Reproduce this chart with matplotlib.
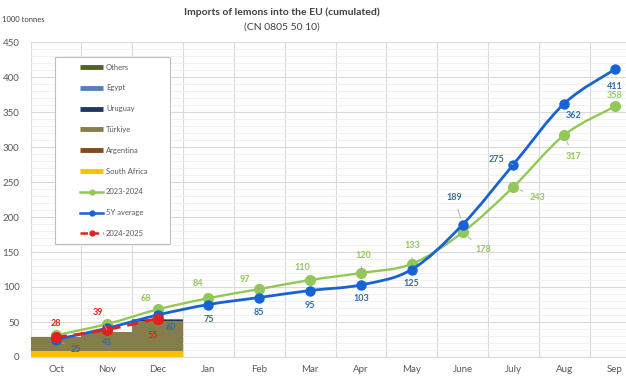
import matplotlib
matplotlib.use("Agg")
import matplotlib.pyplot as plt
from matplotlib.path import Path
from matplotlib.patches import PathPatch, Rectangle
from matplotlib.lines import Line2D
import numpy as np

plt.rcParams['font.family'] = ['Lato', 'DejaVu Sans']

# data
months = ['Oct', 'Nov', 'Dec', 'Jan', 'Feb', 'Mar', 'Apr', 'May', 'June', 'July', 'Aug', 'Sep']
y2324 = [31, 47, 68, 84, 97, 110, 120, 133, 178, 243, 317, 358]
y5avg = [25, 41, 60, 75, 85, 95, 103, 125, 189, 275, 362, 411]
y2425 = [28, 39, 55]

bar_months = ['Oct', 'Nov', 'Dec']
south_africa = [8, 8, 8]
argentina = [1, 1, 1]
turkiye = [20, 27, 43]
uruguay = [0, 0, 0.5]
egypt = [0, 0, 1.5]
others = [0, 0, 0]

# label offsets in pixels (dx, dy), and whether a leader line is drawn
green_off = [None, None, (-12, 11, 1), (-11, 15, 1), (-14, 10, 1), (-8, 13, 1), (2, 18, 1),
             (1, 18, 1), (21, -17, 1), (24, -11, 1), (9, -21, 1), (0, 11, 0)]
blue_off = [(20, -10, 1), (0, -14, 0), (13, -12, 0), (0, -15, 0), (0, -15, 0), (0, -15, 0),
            (0, -14, 0), (0, -14, 0), (-8, 27, 1), (-17, 5, 1), (9, -12, 0), (0, -17, 0)]
red_off = [(0, 14, 0), (-9, 17, 1), (-5, -17, 0)]

C_GREEN = '#92C856'
C_BLUE = '#1763D6'
C_RED = '#E3211C'
L_GREEN = '#92C856'
L_BLUE = '#2E6DA5'
L_RED = '#E3211C'

W, H = 626, 376
fig = plt.figure(figsize=(W / 100, H / 100), dpi=100)
ax = fig.add_axes([30.6 / W, (H - 357) / H, 609.8 / W, 315 / H])

x = np.arange(len(months))
xb = np.arange(len(bar_months))

# stacked bars
stack = [(south_africa, '#FFC000'), (argentina, '#7F4A1E'), (turkiye, '#857D4C'),
         (uruguay, '#1F3864'), (egypt, '#4F81BD'), (others, '#4F6228')]
bottom = np.zeros(len(bar_months))
for vals, col in stack:
    ax.bar(xb, vals, width=1.0, bottom=bottom, color=col, linewidth=0, zorder=2)
    bottom += np.array(vals)


def smooth_path(xs, ys):
    # Excel style smoothed line drawn as cubic bezier segments
    pts = np.column_stack([xs, ys]).astype(float)
    n = len(pts)
    verts = [pts[0]]
    codes = [Path.MOVETO]
    for i in range(n - 1):
        p0 = pts[i - 1] if i > 0 else pts[i]
        p1 = pts[i]
        p2 = pts[i + 1]
        p3 = pts[i + 2] if i + 2 < n else pts[i + 1]
        c1 = p1 + (p2 - p0) / 6
        c2 = p2 - (p3 - p1) / 6
        verts += [c1, c2, p2]
        codes += [Path.CURVE4] * 3
    return Path(verts, codes)


ax.add_patch(PathPatch(smooth_path(x, y2324), fill=False, edgecolor=C_GREEN, lw=1.7, zorder=3,
                       capstyle='round'))
ax.plot(x, y2324, 'o', color=C_GREEN, ms=7, zorder=4)
ax.add_patch(PathPatch(smooth_path(x, y5avg), fill=False, edgecolor=C_BLUE, lw=2.0, zorder=5,
                       capstyle='round'))
ax.plot(x, y5avg, 'o', color=C_BLUE, ms=6.5, zorder=6)
ax.add_patch(PathPatch(smooth_path(xb, y2425), fill=False, edgecolor=C_RED, lw=2.0, zorder=7,
                       linestyle=(0, (4, 2.5))))
ax.plot(xb, y2425, 'o', color=C_RED, ms=7, zorder=8)


def add_labels(xs, ys, offs, col):
    for xi, yi, off in zip(xs, ys, offs):
        if off is None:
            continue
        dx, dy, lead = off
        ax.annotate(str(yi), (xi, yi), xytext=(dx, dy), textcoords='offset pixels',
                    ha='center', va='center', fontsize=6.5, fontweight='bold', color=col,
                    zorder=9,
                    arrowprops=dict(arrowstyle='-', color='#A6A6A6', lw=0.6,
                                    shrinkA=3, shrinkB=5) if lead else None)


add_labels(x, y2324, green_off, L_GREEN)
add_labels(x, y5avg, blue_off, L_BLUE)
add_labels(xb, y2425, red_off, L_RED)

ax.set_xlim(-0.5, len(months) - 0.5)
ax.set_ylim(0, 450)
ax.set_xticks(x)
ax.set_xticklabels(months)
ax.set_yticks(np.arange(0, 451, 50))
ax.set_yticks(np.arange(0, 451, 10), minor=True)
ax.tick_params(axis='both', which='both', length=0, labelsize=7, colors='#595959')
ax.tick_params(axis='x', pad=6)
ax.tick_params(axis='y', pad=8)
ax.grid(axis='y', which='major', color='#D9D9D9', lw=0.8, zorder=0)
ax.grid(axis='y', which='minor', color='#EFEFEF', lw=0.6, zorder=0)
for xv in np.arange(0.5, len(months) - 0.5, 1):
    ax.axvline(xv, color='#D9D9D9', lw=0.8, zorder=0)
ax.axvline(-0.5, color='#D9D9D9', lw=0.8, zorder=0)
for s in ['top', 'right', 'left']:
    ax.spines[s].set_visible(False)
ax.spines['bottom'].set_color('#D9D9D9')
ax.set_axisbelow(True)

# titles
fig.text(282 / W, 1 - 12 / H, 'Imports of lemons into the EU (cumulated)', ha='center', va='center',
         fontsize=7.5, fontweight='bold', color='#404040')
fig.text(282 / W, 1 - 27 / H, '(CN 0805 50 10)', ha='center', va='center',
         fontsize=7.5, color='#404040')
fig.text(2 / W, 1 - 19 / H, '1000 tonnes', ha='left', va='center', fontsize=5.5, color='#404040')

# legend box drawn by hand to match the Excel layout
def fx(px):
    return px / W


def fy(py):
    return 1 - py / H


fig.patches.append(Rectangle((fx(55), fy(244)), fx(170) - fx(55), fy(57) - fy(244),
                             transform=fig.transFigure, facecolor='white', edgecolor='#BFBFBF',
                             lw=0.8, zorder=10))
entries = [('Others', '#4F6228', 'bar'), ('Egypt', '#4F81BD', 'bar'), ('Uruguay', '#1F3864', 'bar'),
           ('Türkiye', '#857D4C', 'bar'), ('Argentina', '#7F4A1E', 'bar'),
           ('South Africa', '#FFC000', 'bar'), ('2023-2024', C_GREEN, 'line'),
           ('5Y average', C_BLUE, 'line'), ('2024-2025', C_RED, 'dash')]
for k, (lab, col, kind) in enumerate(entries):
    yy = fy(67 + k * 20.8)
    if kind == 'bar':
        fig.add_artist(Line2D([fx(80), fx(103)], [yy, yy], color=col, lw=3.5,
                              transform=fig.transFigure, zorder=11, solid_capstyle='butt'))
    else:
        ls = (0, (3, 1.5)) if kind == 'dash' else '-'
        fig.add_artist(Line2D([fx(80), fx(103)], [yy, yy], color=col, lw=1.8, ls=ls,
                              transform=fig.transFigure, zorder=11))
        fig.add_artist(Line2D([fx(91.5)], [yy], color=col, marker='o', ms=3.5,
                              transform=fig.transFigure, zorder=12))
    fig.text(fx(106), yy, lab, ha='left', va='center', fontsize=5.5, color='#595959', zorder=12)

fig.savefig('out.png', dpi=100)
